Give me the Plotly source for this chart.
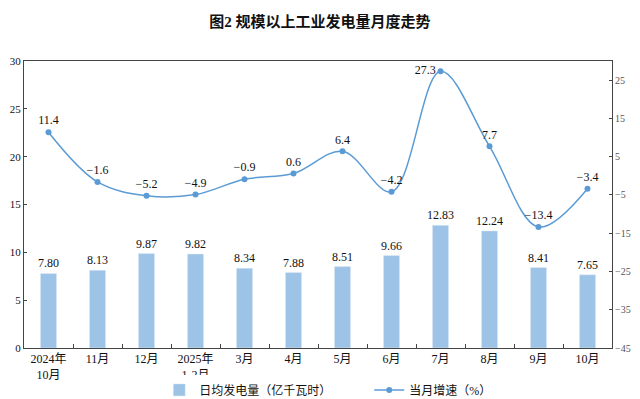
import plotly.graph_objects as go

categories = ["2024年<br>10月", "11月", "12月", "2025年<br>1-2月", "3月", "4月", "5月", "6月", "7月", "8月", "9月", "10月"]
daily_output = [7.80, 8.13, 9.87, 9.82, 8.34, 7.88, 8.51, 9.66, 12.83, 12.24, 8.41, 7.65]
growth = [11.4, -1.6, -5.2, -4.9, -0.9, 0.6, 6.4, -4.2, 27.3, 7.7, -13.4, -3.4]
left_ticks = [0, 5, 10, 15, 20, 25, 30]
right_ticks = [-45, -35, -25, -15, -5, 5, 15, 25]

FONT = "Liberation Serif, Noto Sans CJK SC"
BAR_COLOR = "#9dc3e6"
LINE_COLOR = "#5b9bd5"

growth_pos = ["middle left" if v == max(growth) else "top center" for v in growth]

fig = go.Figure()
fig.add_trace(go.Bar(
    x=categories, y=daily_output, name="日均发电量（亿千瓦时）",
    marker=dict(color=BAR_COLOR), width=0.33,
    text=[f"{v:.2f}" for v in daily_output], textposition="outside", constraintext="none",
    textfont=dict(size=12, color="#111", family=FONT), cliponaxis=False,
))
fig.add_trace(go.Scatter(
    x=categories, y=growth, name="当月增速（%）", yaxis="y2",
    mode="lines+markers+text", line=dict(color=LINE_COLOR, width=1.5, shape="spline", smoothing=1),
    marker=dict(color=LINE_COLOR, size=6),
    text=[f"{v:.1f}".replace("-", "−") for v in growth], textposition=growth_pos,
    textfont=dict(size=12, color="#111", family=FONT), cliponaxis=False,
))

fig.update_layout(
    width=624, height=391,
    margin=dict(l=16, r=20, t=53, b=51, autoexpand=False),
    paper_bgcolor="white", plot_bgcolor="white",
    font=dict(family=FONT, size=11, color="#222"),
    title=dict(text="<b>图2 规模以上工业发电量月度走势</b>", x=0.5, xanchor="center", y=0.964, yanchor="middle",
               font=dict(size=15, color="#111", family="Liberation Serif, Noto Sans CJK SC")),
    showlegend=True,
    legend=dict(orientation="h", x=0.23, xanchor="left", y=-0.146, yanchor="middle",
                font=dict(size=12, color="#111"), itemwidth=30, tracegroupgap=0,
                entrywidthmode="pixels", entrywidth=165),
    xaxis=dict(type="category", range=[-0.5, 11.5], showline=True, linecolor="#444", linewidth=1,
               mirror=True, ticks="inside", tickson="boundaries", ticklen=4, tickcolor="#444",
               tickfont=dict(size=12, color="#111"), showgrid=False, automargin=False, tickangle=0),
    yaxis=dict(range=[0, 30], tickvals=left_ticks, showline=True, linecolor="#444", linewidth=1,
               ticks="inside", ticklen=3, tickcolor="#444", showgrid=False, zeroline=False,
               tickfont=dict(size=11, color="#111"), automargin=False),
    yaxis2=dict(range=[-45, 30], tickvals=right_ticks, overlaying="y", side="right",
                showline=True, linecolor="#444", linewidth=1, ticks="inside", ticklen=3, tickcolor="#444",
                showgrid=False, zeroline=False, tickfont=dict(size=10, color="#555"), automargin=False,
                ticktext=[str(v).replace("-", "−") for v in right_ticks]),
)
fig.write_html("out.html")
